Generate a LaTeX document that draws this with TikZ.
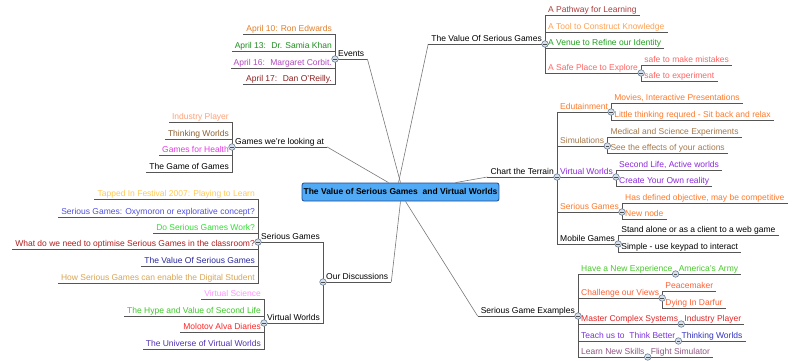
\documentclass[tikz,border=0pt]{standalone}
\usepackage{fontspec}
\setmainfont{Liberation Sans}
\usepackage{tikz}

\definecolor{linegray}{RGB}{85,85,85}
\definecolor{spokegray}{RGB}{120,120,120}
\definecolor{knobline}{RGB}{105,125,150}
\definecolor{knobfill}{RGB}{215,225,235}
\definecolor{rootfill}{RGB}{80,170,245}
\definecolor{rootline}{RGB}{30,75,150}
\definecolor{evorange}{RGB}{226,125,40}
\definecolor{evgreen}{RGB}{30,140,30}
\definecolor{evpurple}{RGB}{176,72,190}
\definecolor{evred}{RGB}{140,30,30}
\definecolor{pathred}{RGB}{170,60,60}
\definecolor{toolorange}{RGB}{255,160,80}
\definecolor{venuegreen}{RGB}{30,160,30}
\definecolor{safepink}{RGB}{255,100,100}
\definecolor{indorange}{RGB}{255,160,120}
\definecolor{thinkbrown}{RGB}{140,95,50}
\definecolor{healthpink}{RGB}{225,60,225}
\definecolor{eduorange}{RGB}{255,120,40}
\definecolor{simbrown}{RGB}{165,120,75}
\definecolor{vwpurple}{RGB}{140,40,220}
\definecolor{tapyellow}{RGB}{255,200,80}
\definecolor{oxyblue}{RGB}{80,80,225}
\definecolor{workgreen}{RGB}{50,220,50}
\definecolor{optred}{RGB}{175,30,30}
\definecolor{valnavy}{RGB}{40,40,160}
\definecolor{enabletan}{RGB}{215,165,85}
\definecolor{scipink}{RGB}{255,150,255}
\definecolor{hypegreen}{RGB}{60,200,40}
\definecolor{molred}{RGB}{255,35,35}
\definecolor{univpurple}{RGB}{80,48,176}
\definecolor{expgreen}{RGB}{70,200,40}
\definecolor{chalorange}{RGB}{255,95,50}
\definecolor{mastred}{RGB}{225,35,35}
\definecolor{teachpurple}{RGB}{120,50,220}
\definecolor{thinkblue}{RGB}{50,50,190}
\definecolor{learnmauve}{RGB}{145,85,130}

\begin{document}
\begin{tikzpicture}[
        x=1pt,y=-1pt,
        font=\fontsize{8.5}{10}\selectfont,
        every node/.style={inner xsep=3pt,inner ysep=0.5pt,text height=6.5pt,text depth=2pt},
        toright/.style={anchor=south west},
        toleft/.style={anchor=south east},
        link/.style={draw=linegray,line width=0.7pt},
        spoke/.style={draw=spokegray,line width=0.6pt},
        knob/.style={circle,draw=knobline,fill=knobfill,line width=0.6pt,minimum size=6.5pt,
            inner sep=0pt,text height=0pt,text depth=0pt,
            path picture={\draw[line width=0.6pt,black!70]
                ([xshift=-1.8pt]path picture bounding box.center) --
                ([xshift=1.8pt]path picture bounding box.center);}},
        root/.style={rounded corners=2pt,draw=rootline,fill=rootfill,line width=0.8pt,
            inner xsep=1.5pt,minimum height=18pt,font=\fontsize{8.5}{10}\selectfont\bfseries}]

    \useasboundingbox (0,0) rectangle (805,360);

    \node[root] (root) at (400.5,192) {The Value of Serious Games~ and Virtual Worlds};

    % Events
    \node[toright] (events) at (335,59) {Events};
    \coordinate (events-j) at (events.south west);
    \node[toleft,text=evorange] (ev1) at (events-j |- 0,34) {April 10: Ron Edwards};
    \node[toleft,text=evgreen] (ev2) at (events-j |- 0,51) {April 13:~ Dr. Samia Khan};
    \node[toleft,text=evpurple] (ev3) at (events-j |- 0,68) {April 16:~ Margaret Corbit.};
    \node[toleft,text=evred] (ev4) at (events-j |- 0,84) {April 17:~ Dan O'Reilly.};

    % The Value Of Serious Games
    \node[toleft] (value) at (545,44) {The Value Of Serious Games};
    \coordinate (value-j) at (value.south east);
    \node[toright,text=pathred] (val1) at (value-j |- 0,15) {A Pathway for Learning};
    \node[toright,text=toolorange] (val2) at (value-j |- 0,32) {A Tool to Construct Knowledge};
    \node[toright,text=venuegreen] (val3) at (value-j |- 0,48) {A Venue to Refine our Identity};
    \node[toright,text=safepink] (safe) at (value-j |- 0,73) {A Safe Place to Explore};
    \coordinate (safe-j) at (safe.south east);
    \node[toright,text=safepink] (safe1) at (safe-j |- 0,65) {safe to make mistakes};
    \node[toright,text=safepink] (safe2) at (safe-j |- 0,81) {safe to experiment};

    % Games we're looking at
    \node[toright] (games) at (232,147) {Games we're looking at};
    \coordinate (games-j) at (games.south west);
    \node[toleft,text=indorange] (gm1) at (games-j |- 0,122) {Industry Player};
    \node[toleft,text=thinkbrown] (gm2) at (games-j |- 0,139) {Thinking Worlds};
    \node[toleft,text=healthpink] (gm3) at (games-j |- 0,155) {Games for Health};
    \node[toleft] (gm4) at (games-j |- 0,172) {The Game of Games};

    % Chart the Terrain
    \node[toleft] (chart) at (557,177) {Chart the Terrain};
    \coordinate (chart-j) at (chart.south east);
    \node[toright,text=eduorange] (edu) at (chart-j |- 0,112) {Edutainment};
    \coordinate (edu-j) at (edu.south east);
    \node[toright,text=eduorange] (edu1) at (edu-j |- 0,103) {Movies, Interactive Presentations};
    \node[toright,text=eduorange] (edu2) at (edu-j |- 0,120) {Little thinking requred - Sit back and relax};
    \node[toright,text=simbrown] (sim) at (chart-j |- 0,146) {Simulations};
    \coordinate (sim-j) at (sim.south east);
    \node[toright,text=simbrown] (sim1) at (sim-j |- 0,137) {Medical and Science Experiments};
    \node[toright,text=simbrown] (sim2) at (sim-j |- 0,153) {See the effects of your actions};
    \node[toright,text=vwpurple] (cvw) at (chart-j |- 0,177) {Virtual Worlds};
    \coordinate (cvw-j) at (cvw.south east);
    \node[toright,text=vwpurple] (cvw1) at (cvw-j |- 0,170) {Second Life, Active worlds};
    \node[toright,text=vwpurple] (cvw2) at (cvw-j |- 0,186) {Create Your Own reality};
    \node[toright,text=eduorange] (csg) at (chart-j |- 0,212) {Serious Games};
    \coordinate (csg-j) at (csg.south east);
    \node[toright,text=eduorange] (csg1) at (csg-j |- 0,203) {Has defined objective, may be competitive};
    \node[toright,text=eduorange] (csg2) at (csg-j |- 0,219) {New node};
    \node[toright] (mob) at (chart-j |- 0,244) {Mobile Games};
    \coordinate (mob-j) at (mob.south east);
    \node[toright] (mob1) at (mob-j |- 0,235) {Stand alone or as a client to a web game};
    \node[toright] (mob2) at (mob-j |- 0,252) {Simple - use keypad to interact};

    % Our Discussions
    \node[toright] (disc) at (323,282) {Our Discussions};
    \coordinate (disc-j) at (disc.south west);
    \node[toleft] (dsg) at (disc-j |- 0,242) {Serious Games};
    \coordinate (dsg-j) at (dsg.south west);
    \node[toleft,text=tapyellow] (dsg1) at (dsg-j |- 0,199) {Tapped In Festival 2007: Playing to Learn};
    \node[toleft,text=oxyblue] (dsg2) at (dsg-j |- 0,217) {Serious Games: Oxymoron or explorative concept?};
    \node[toleft,text=workgreen] (dsg3) at (dsg-j |- 0,233) {Do Serious Games Work?};
    \node[toleft,text=optred] (dsg4) at (dsg-j |- 0,249) {What do we need to optimise Serious Games in the classroom?};
    \node[toleft,text=valnavy] (dsg5) at (dsg-j |- 0,266) {The Value Of Serious Games};
    \node[toleft,text=enabletan] (dsg6) at (dsg-j |- 0,283) {How Serious Games can enable the Digital Student};
    \node[toleft] (dvw) at (disc-j |- 0,323) {Virtual Worlds};
    \coordinate (dvw-j) at (dvw.south west);
    \node[toleft,text=scipink] (dvw1) at (dvw-j |- 0,299) {Virtual Science};
    \node[toleft,text=hypegreen] (dvw2) at (dvw-j |- 0,316) {The Hype and Value of Second Life};
    \node[toleft,text=molred] (dvw3) at (dvw-j |- 0,332) {Molotov Alva Diaries};
    \node[toleft,text=univpurple] (dvw4) at (dvw-j |- 0,349) {The Universe of Virtual Worlds};

    % Serious Game Examples
    \node[toleft] (ex) at (578,316) {Serious Game Examples};
    \coordinate (ex-j) at (ex.south east);
    \node[toright,text=expgreen] (ex1) at (ex-j |- 0,274) {Have a New Experience};
    \coordinate (ex1-j) at (ex1.south east);
    \node[toright,text=expgreen] (ex1a) at (ex1-j) {America's Army};
    \node[toright,text=chalorange] (ex2) at (ex-j |- 0,298) {Challenge our Views};
    \coordinate (ex2-j) at (ex2.south east);
    \node[toright,text=chalorange] (ex2a) at (ex2-j |- 0,291) {Peacemaker};
    \node[toright,text=chalorange] (ex2b) at (ex2-j |- 0,308) {Dying In Darfur};
    \node[toright,text=mastred] (ex3) at (ex-j |- 0,324) {Master Complex Systems};
    \coordinate (ex3-j) at (ex3.south east);
    \node[toright,text=mastred] (ex3a) at (ex3-j) {Industry Player};
    \node[toright,text=teachpurple] (ex4) at (ex-j |- 0,341) {Teach us to~ Think Better};
    \coordinate (ex4-j) at (ex4.south east);
    \node[toright,text=thinkblue] (ex4a) at (ex4-j) {Thinking Worlds};
    \node[toright,text=learnmauve] (ex5) at (ex-j |- 0,357) {Learn New Skills};
    \coordinate (ex5-j) at (ex5.south east);
    \node[toright,text=learnmauve] (ex5a) at (ex5-j) {Flight Simulator};

    % spokes from the root
    \draw[spoke] (root.north) -- (events.south east);
    \draw[spoke] ([xshift=-2pt]root.north) -- (value.south west);
    \draw[spoke] ([xshift=-12pt]root.north) -- (games.south east);
    \draw[spoke] ([xshift=55pt]root.north) -- (chart.south west);
    \draw[spoke] (root.south) -- (disc.south east);
    \draw[spoke] ([xshift=5pt]root.south) -- (ex.south west);

    % underlines and branch lines
    \draw[link] (events.south west) -- (events.south east)
        (events-j) |- (ev1.south west) (events-j) |- (ev2.south west)
        (events-j) |- (ev3.south west) (events-j) |- (ev4.south west);
    \draw[link] (value.south west) -- (value.south east)
        (value-j) |- (val1.south east) (value-j) |- (val2.south east)
        (value-j) |- (val3.south east) (value-j) |- (safe.south east)
        (safe-j) |- (safe1.south east) (safe-j) |- (safe2.south east);
    \draw[link] (games.south west) -- (games.south east)
        (games-j) |- (gm1.south west) (games-j) |- (gm2.south west)
        (games-j) |- (gm3.south west) (games-j) |- (gm4.south west);
    \draw[link] (chart.south west) -- (chart.south east)
        (chart-j) |- (edu.south east) (chart-j) |- (sim.south east)
        (chart-j) |- (cvw.south east) (chart-j) |- (csg.south east)
        (chart-j) |- (mob.south east)
        (edu-j) |- (edu1.south east) (edu-j) |- (edu2.south east)
        (sim-j) |- (sim1.south east) (sim-j) |- (sim2.south east)
        (cvw-j) |- (cvw1.south east) (cvw-j) |- (cvw2.south east)
        (csg-j) |- (csg1.south east) (csg-j) |- (csg2.south east)
        (mob-j) |- (mob1.south east) (mob-j) |- (mob2.south east);
    \draw[link] (disc.south west) -- (disc.south east)
        (disc-j) |- (dsg.south west) (disc-j) |- (dvw.south west)
        (dsg-j) |- (dsg1.south west) (dsg-j) |- (dsg2.south west)
        (dsg-j) |- (dsg3.south west) (dsg-j) |- (dsg4.south west)
        (dsg-j) |- (dsg5.south west) (dsg-j) |- (dsg6.south west)
        (dvw-j) |- (dvw1.south west) (dvw-j) |- (dvw2.south west)
        (dvw-j) |- (dvw3.south west) (dvw-j) |- (dvw4.south west);
    \draw[link] (ex.south west) -- (ex.south east)
        (ex-j) |- (ex1.south east) (ex-j) |- (ex2.south east)
        (ex-j) |- (ex3.south east) (ex-j) |- (ex4.south east)
        (ex-j) |- (ex5.south east)
        (ex1-j) -- (ex1a.south east)
        (ex2-j) |- (ex2a.south east) (ex2-j) |- (ex2b.south east)
        (ex3-j) -- (ex3a.south east)
        (ex4-j) -- (ex4a.south east)
        (ex5-j) -- (ex5a.south east);

    % collapse knobs
    \node[knob] (events-k) at (events-j) {};
    \node[knob] (value-k) at (value-j) {};
    \node[knob] (safe-k) at (safe-j) {};
    \node[knob] (games-k) at (games-j) {};
    \node[knob] (chart-k) at (chart-j) {};
    \node[knob] (edu-k) at (edu-j) {};
    \node[knob] (sim-k) at (sim-j) {};
    \node[knob] (cvw-k) at (cvw-j) {};
    \node[knob] (csg-k) at (csg-j) {};
    \node[knob] (mob-k) at (mob-j) {};
    \node[knob] (disc-k) at (disc-j) {};
    \node[knob] (dsg-k) at (dsg-j) {};
    \node[knob] (dvw-k) at (dvw-j) {};
    \node[knob] (ex-k) at (ex-j) {};
    \node[knob] (ex1-k) at (ex1-j) {};
    \node[knob] (ex2-k) at (ex2-j) {};
    \node[knob] (ex3-k) at (ex3-j) {};
    \node[knob] (ex4-k) at (ex4-j) {};
    \node[knob] (ex5-k) at (ex5-j) {};
\end{tikzpicture}
\end{document}
